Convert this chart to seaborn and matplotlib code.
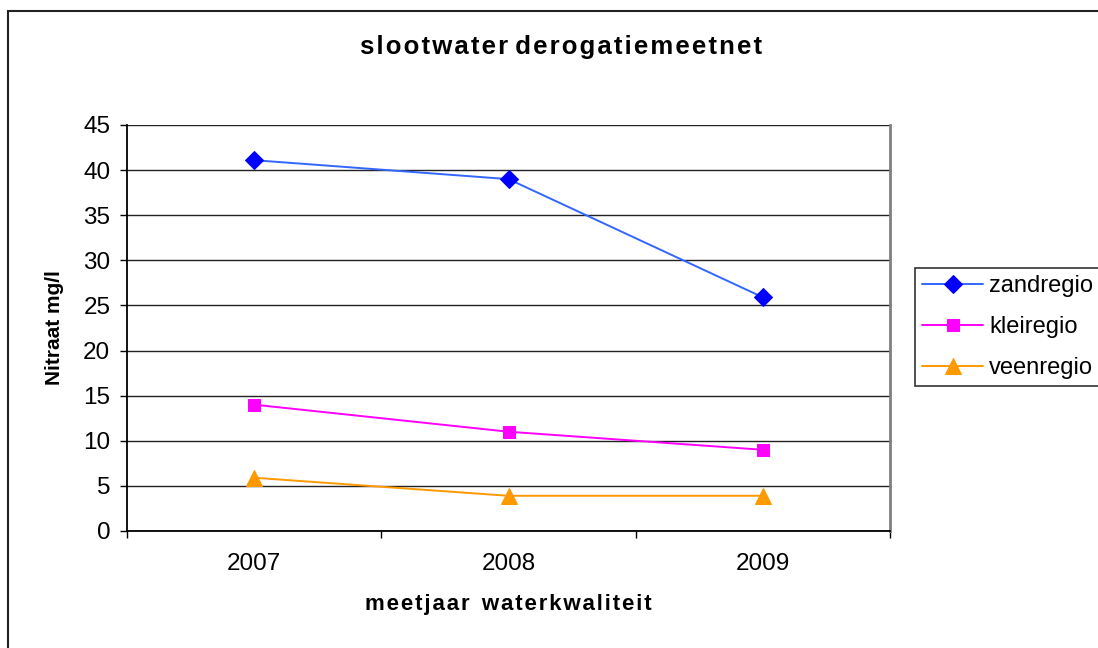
#importações
import matplotlib
matplotlib.use("Agg")
import matplotlib.pyplot as plt
import matplotlib.patches as patches
from matplotlib.ticker import FixedLocator
import seaborn as sns

#dados
jaren = ["2007", "2008", "2009"]
zandregio = [41.1, 39.0, 25.9]
kleiregio = [14.0, 11.0, 9.0]
veenregio = [5.9, 3.9, 3.9]
y_ticks = [0, 5, 10, 15, 20, 25, 30, 35, 40, 45]

sns.set_style("white")
plt.rcParams['font.family'] = ['Liberation Sans', 'DejaVu Sans']
plt.rcParams['text.color'] = 'black'
plt.rcParams['axes.labelcolor'] = 'black'
plt.rcParams['xtick.color'] = 'black'
plt.rcParams['ytick.color'] = 'black'

HAIR = "\u200a"


def spatie(tekst, tussen=" "):
    #letters iets uit elkaar zetten zoals in Excel
    return tussen.join(HAIR.join(w) for w in tekst.split(" "))


fig = plt.figure(figsize=(10.98, 6.48), dpi=100)
ax = fig.add_axes([0.1157, 0.1806, 0.6949, 0.6265])

#series
sns.lineplot(x=jaren, y=zandregio, ax=ax, color="#3366FF", lw=1.4,
             marker="D", markersize=9, markerfacecolor="#0000FF",
             markeredgecolor="#0000FF", label="zandregio")
sns.lineplot(x=jaren, y=kleiregio, ax=ax, color="#FF00FF", lw=1.4,
             marker="s", markersize=9, markerfacecolor="#FF00FF",
             markeredgecolor="#FF00FF", label="kleiregio")
sns.lineplot(x=jaren, y=veenregio, ax=ax, color="#FF9900", lw=1.4,
             marker="^", markersize=11, markerfacecolor="#FF9900",
             markeredgecolor="#FF9900", label="veenregio")

#assen
ax.set_xlim(-0.5, 2.5)
ax.set_ylim(0, 45)
ax.set_yticks(y_ticks)
ax.yaxis.grid(True, color="#222222", lw=1.0)
ax.set_axisbelow(True)
ax.xaxis.set_minor_locator(FixedLocator([-0.5, 0.5, 1.5, 2.5]))
ax.tick_params(axis="x", which="major", length=0, pad=16, labelsize=17.5)
ax.tick_params(axis="x", which="minor", length=5, width=1, color="black", direction="out")
ax.tick_params(axis="y", length=5, width=1, color="black", direction="out", pad=7, labelsize=17.5)
ax.tick_params(bottom=True, left=True, which="both")

for s in ["left", "bottom"]:
    ax.spines[s].set_color("black")
    ax.spines[s].set_linewidth(1.3)
ax.spines["top"].set_visible(False)
ax.spines["right"].set_color("#808080")
ax.spines["right"].set_linewidth(2)

ax.set_xlabel(spatie("meetjaar waterkwaliteit", "  "), fontsize=16, fontweight="bold")
ax.xaxis.set_label_coords(0.5, -0.155)
ax.set_ylabel("Nitraat mg/l", fontsize=15, fontweight="bold")
ax.yaxis.set_label_coords(-0.083, 0.5)

fig.text(0.511, 1 - 47 / 648, spatie("slootwater derogatiemeetnet"),
         fontsize=18.5, fontweight="bold", ha="center", va="center")

#legenda
leg = ax.legend(loc="upper left", bbox_to_anchor=(0.8333, 0.5864),
                bbox_transform=fig.transFigure, fontsize=17, frameon=True,
                fancybox=False, edgecolor="black", handlelength=2.6,
                borderpad=0.3, labelspacing=0.8, handletextpad=0.25,
                borderaxespad=0)
leg.get_frame().set_linewidth(1.2)

#kader rond de figuur
rand = patches.Rectangle((8 / 1098, -0.2), 1.2, 0.2 + 1 - 11 / 648,
                         transform=fig.transFigure, fill=False,
                         edgecolor="#222222", lw=1.5, clip_on=False)
fig.patches.append(rand)

plt.savefig("out.png", dpi=100)
